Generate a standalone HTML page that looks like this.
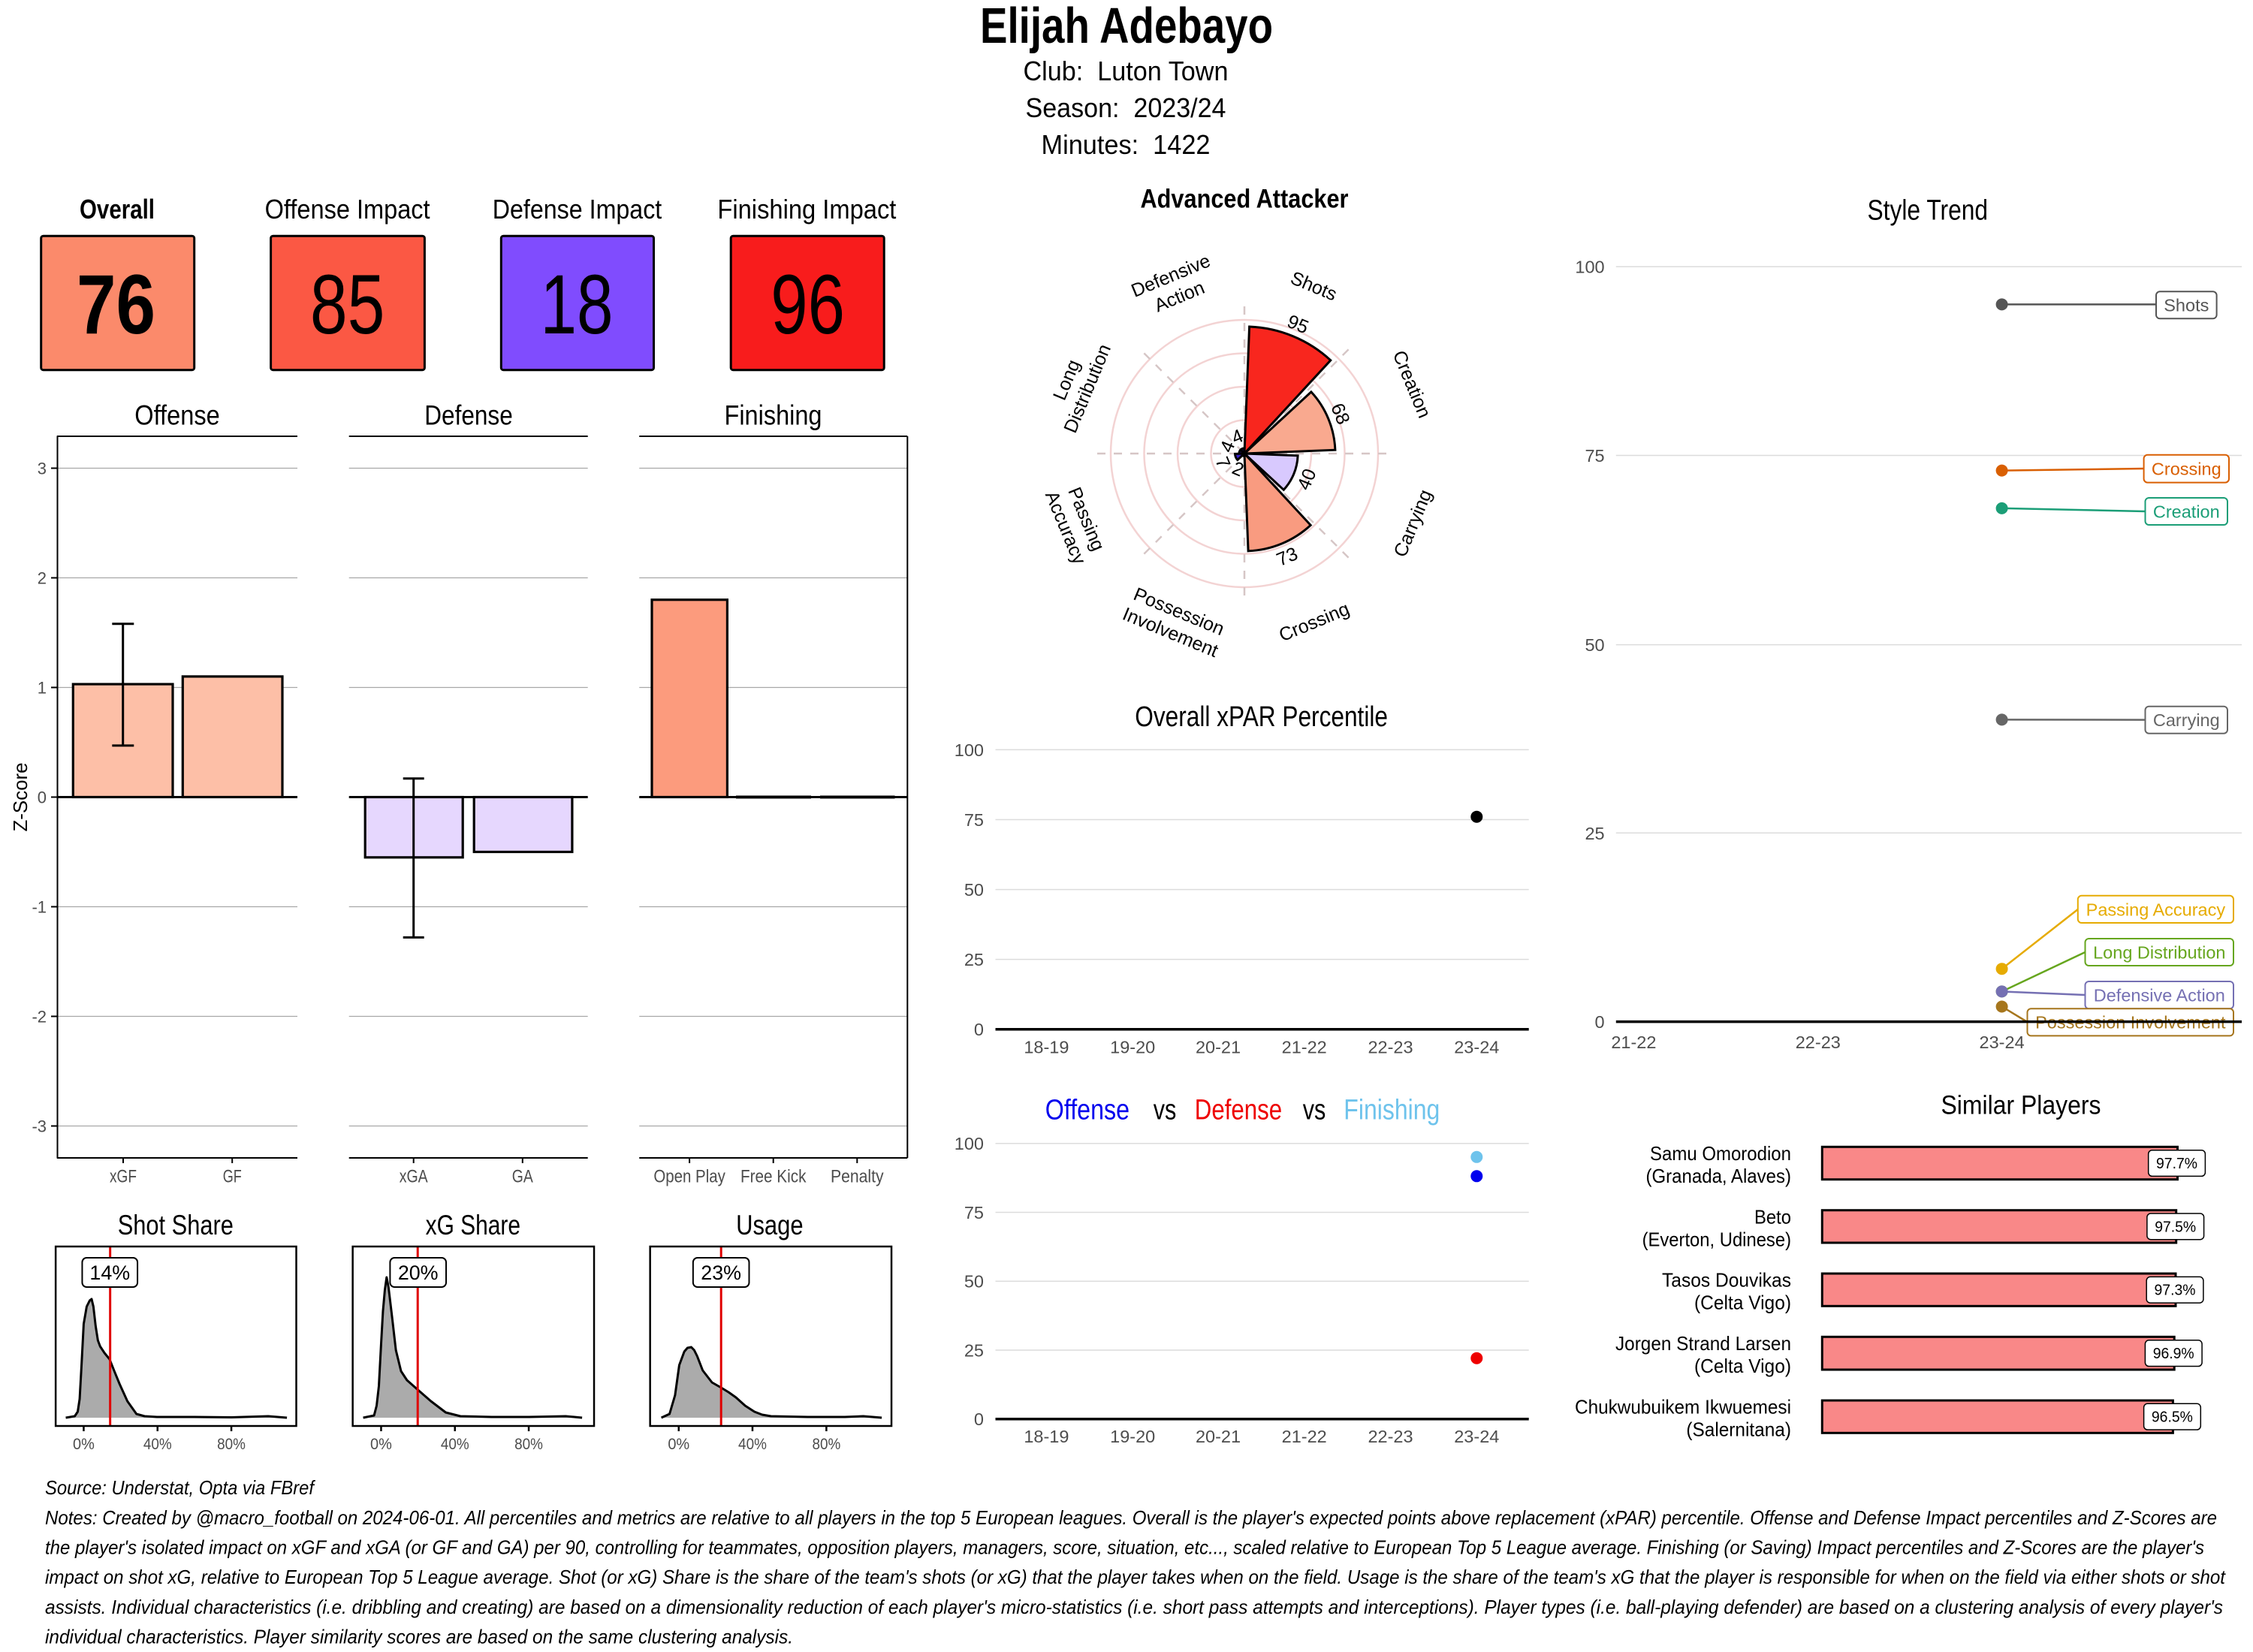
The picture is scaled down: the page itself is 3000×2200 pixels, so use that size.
<!DOCTYPE html>
<html><head><meta charset="utf-8"><style>
html,body{margin:0;padding:0;background:#fff;}
svg{display:block;}
text{font-family:"Liberation Sans",Arial,sans-serif;}
.pre{white-space:pre;}
</style></head><body>
<svg width="3000" height="2200" viewBox="0 0 3000 2200" xmlns="http://www.w3.org/2000/svg">
<rect x="0" y="0" width="3000" height="2200" fill="#fff"/>

<!-- Header -->
<text x="1500" y="57" font-size="67" font-weight="bold" text-anchor="middle" textLength="390" lengthAdjust="spacingAndGlyphs">Elijah Adebayo</text>
<text class="pre" x="1499" y="107" font-size="36" text-anchor="middle" textLength="273" lengthAdjust="spacingAndGlyphs">Club:  Luton Town</text>
<text class="pre" x="1499" y="156" font-size="36" text-anchor="middle" textLength="267" lengthAdjust="spacingAndGlyphs">Season:  2023/24</text>
<text class="pre" x="1499" y="205" font-size="36" text-anchor="middle" textLength="225" lengthAdjust="spacingAndGlyphs">Minutes:  1422</text>

<!-- Top boxes -->
<g font-size="36" text-anchor="middle">
<text x="156" y="291" font-weight="bold" textLength="100" lengthAdjust="spacingAndGlyphs">Overall</text>
<text x="462.6" y="291" textLength="220" lengthAdjust="spacingAndGlyphs">Offense Impact</text>
<text x="768.5" y="291" textLength="225.5" lengthAdjust="spacingAndGlyphs">Defense Impact</text>
<text x="1074.4" y="291" textLength="238" lengthAdjust="spacingAndGlyphs">Finishing Impact</text>
</g>
<g stroke="#000" stroke-width="3">
<rect x="54.7" y="314.2" width="204" height="178.5" rx="3" fill="#FB8A6B"/>
<rect x="360.6" y="314.2" width="204.8" height="178.5" rx="3" fill="#FB5844"/>
<rect x="667.3" y="314.2" width="203.2" height="178.5" rx="3" fill="#804CFE"/>
<rect x="973.2" y="314.2" width="204" height="178.5" rx="3" fill="#F81C1C"/>
</g>
<g font-size="112" text-anchor="middle">
<text x="154.5" y="443.8" font-weight="bold" textLength="105" lengthAdjust="spacingAndGlyphs">76</text>
<text x="462.6" y="443.8" textLength="99.5" lengthAdjust="spacingAndGlyphs">85</text>
<text x="768" y="443.8" textLength="97" lengthAdjust="spacingAndGlyphs">18</text>
<text x="1075.6" y="443.8" textLength="98.7" lengthAdjust="spacingAndGlyphs">96</text>
</g>

<!-- Bar panels titles -->
<g font-size="37" text-anchor="middle">
<text x="236" y="565.6" textLength="113.5" lengthAdjust="spacingAndGlyphs">Offense</text>
<text x="624" y="565.6" textLength="117.5" lengthAdjust="spacingAndGlyphs">Defense</text>
<text x="1029.5" y="565.6" textLength="130" lengthAdjust="spacingAndGlyphs">Finishing</text>
</g>
<!-- gridlines -->
<g stroke="#a8a8a8" stroke-width="1.3">
<line x1="75.7" y1="623.5" x2="396" y2="623.5"/><line x1="75.7" y1="769.5" x2="396" y2="769.5"/><line x1="75.7" y1="915.5" x2="396" y2="915.5"/><line x1="75.7" y1="1207.5" x2="396" y2="1207.5"/><line x1="75.7" y1="1353.5" x2="396" y2="1353.5"/><line x1="75.7" y1="1499.5" x2="396" y2="1499.5"/>
<line x1="464.7" y1="623.5" x2="782.7" y2="623.5"/><line x1="464.7" y1="769.5" x2="782.7" y2="769.5"/><line x1="464.7" y1="915.5" x2="782.7" y2="915.5"/><line x1="464.7" y1="1207.5" x2="782.7" y2="1207.5"/><line x1="464.7" y1="1353.5" x2="782.7" y2="1353.5"/><line x1="464.7" y1="1499.5" x2="782.7" y2="1499.5"/>
<line x1="851.2" y1="623.5" x2="1208.3" y2="623.5"/><line x1="851.2" y1="769.5" x2="1208.3" y2="769.5"/><line x1="851.2" y1="915.5" x2="1208.3" y2="915.5"/><line x1="851.2" y1="1207.5" x2="1208.3" y2="1207.5"/><line x1="851.2" y1="1353.5" x2="1208.3" y2="1353.5"/><line x1="851.2" y1="1499.5" x2="1208.3" y2="1499.5"/>
</g>
<!-- panel lines -->
<g stroke="#000" stroke-width="2" fill="none">
<line x1="75.7" y1="581" x2="396" y2="581"/><line x1="75.7" y1="1542" x2="396" y2="1542"/><line x1="76.5" y1="581" x2="76.5" y2="1542"/>
<line x1="464.7" y1="581" x2="782.7" y2="581"/><line x1="464.7" y1="1542" x2="782.7" y2="1542"/>
<line x1="851.2" y1="581" x2="1208.3" y2="581"/><line x1="851.2" y1="1542" x2="1208.3" y2="1542"/><line x1="1208.3" y1="581" x2="1208.3" y2="1542"/>
<!-- y ticks -->
<line x1="68" y1="623.5" x2="76" y2="623.5"/><line x1="68" y1="769.5" x2="76" y2="769.5"/><line x1="68" y1="915.5" x2="76" y2="915.5"/><line x1="68" y1="1061.5" x2="76" y2="1061.5"/><line x1="68" y1="1207.5" x2="76" y2="1207.5"/><line x1="68" y1="1353.5" x2="76" y2="1353.5"/><line x1="68" y1="1499.5" x2="76" y2="1499.5"/>
<!-- x ticks -->
<line x1="164" y1="1542" x2="164" y2="1549"/><line x1="309.2" y1="1542" x2="309.2" y2="1549"/><line x1="550.7" y1="1542" x2="550.7" y2="1549"/><line x1="695.8" y1="1542" x2="695.8" y2="1549"/><line x1="918.1" y1="1542" x2="918.1" y2="1549"/><line x1="1029.7" y1="1542" x2="1029.7" y2="1549"/><line x1="1141.3" y1="1542" x2="1141.3" y2="1549"/>
</g>
<g font-size="22" fill="#4d4d4d" text-anchor="end">
<text x="62" y="631.5">3</text><text x="62" y="777.5">2</text><text x="62" y="923.5">1</text><text x="62" y="1069.5">0</text><text x="62" y="1215.5">-1</text><text x="62" y="1361.5">-2</text><text x="62" y="1507.5">-3</text>
</g>
<text x="36" y="1061.5" font-size="26" text-anchor="middle" transform="rotate(-90 36 1061.5)" textLength="92" lengthAdjust="spacingAndGlyphs">Z-Score</text>
<g font-size="24" fill="#4d4d4d" text-anchor="middle">
<text x="164" y="1574.5" textLength="36" lengthAdjust="spacingAndGlyphs">xGF</text>
<text x="309.2" y="1574.5" textLength="25" lengthAdjust="spacingAndGlyphs">GF</text>
<text x="550.7" y="1574.5" textLength="38" lengthAdjust="spacingAndGlyphs">xGA</text>
<text x="695.8" y="1574.5" textLength="28" lengthAdjust="spacingAndGlyphs">GA</text>
<text x="918.1" y="1574.5" textLength="95.5" lengthAdjust="spacingAndGlyphs">Open Play</text>
<text x="1029.7" y="1574.5" textLength="87.5" lengthAdjust="spacingAndGlyphs">Free Kick</text>
<text x="1141.3" y="1574.5" textLength="70.7" lengthAdjust="spacingAndGlyphs">Penalty</text>
</g>
<!-- bars -->
<g stroke="#000" stroke-width="3.2">
<rect x="97.3" y="911.1" width="132.7" height="150.4" fill="#FDBFA7"/>
<rect x="243.3" y="900.9" width="132.7" height="160.6" fill="#FDBFA7"/>
<rect x="486.2" y="1061.5" width="130" height="80.3" fill="#E6D7FE"/>
<rect x="631.2" y="1061.5" width="130.7" height="73" fill="#E6D7FE"/>
<rect x="868" y="798.7" width="100.4" height="262.8" fill="#FC9B7D"/>
</g>
<g stroke="#000" stroke-width="3" fill="none">
<line x1="75.7" y1="1061.5" x2="396" y2="1061.5"/>
<line x1="464.7" y1="1061.5" x2="782.7" y2="1061.5"/>
<line x1="851.2" y1="1061.5" x2="1208.3" y2="1061.5"/>
<line x1="980" y1="1061.5" x2="1080" y2="1061.5" stroke-width="4"/>
<line x1="1092" y1="1061.5" x2="1191.5" y2="1061.5" stroke-width="4"/>
<line x1="163.7" y1="830.8" x2="163.7" y2="992.9"/><line x1="149.3" y1="830.8" x2="178.3" y2="830.8"/><line x1="149.3" y1="992.9" x2="178.3" y2="992.9"/>
<line x1="550.7" y1="1036.7" x2="550.7" y2="1248.4"/><line x1="536.7" y1="1036.7" x2="564.7" y2="1036.7"/><line x1="536.7" y1="1248.4" x2="564.7" y2="1248.4"/>
</g>

<!-- Density panels (scaled horizontally) -->
<g transform="scale(0.995 1)">
<g font-size="37" text-anchor="middle">
<text x="235" y="1644" textLength="155" lengthAdjust="spacingAndGlyphs">Shot Share</text>
<text x="633" y="1644" textLength="127" lengthAdjust="spacingAndGlyphs">xG Share</text>
<text x="1030" y="1644" textLength="90" lengthAdjust="spacingAndGlyphs">Usage</text>
</g>
<g stroke="#000" stroke-width="3" fill="#ababab" stroke-linejoin="round">
<path d="M88,1888 L100,1886 L104,1880 L106.6,1863 L109,1820 L112,1763 L116,1740 L120,1732 L122.6,1730 L125,1740 L128,1766 L131,1785 L134,1793 L140,1802 L146.6,1810 L153,1826 L160,1843 L170.5,1866 L182.6,1883 L193.5,1886 L210,1887 L260,1887 L310,1887.5 L359,1886 L384,1888"/>
<path d="M486,1888 L500.6,1885 L504,1872 L507,1846 L510,1790 L512.5,1746 L515,1718 L517.4,1701 L519.9,1714 L524.6,1753 L529.8,1798 L536.7,1826 L544.6,1838 L559.4,1851 L576.7,1866 L596.5,1881 L616.2,1886 L658,1887 L708,1887 L757,1886 L779,1888"/>
<path d="M885,1888 L896,1883 L903.4,1858 L909,1818 L915.7,1800 L920,1795 L925.1,1794 L929,1798 L933,1806 L940.4,1825 L952.8,1841 L965.1,1848 L975,1854 L984.9,1861 L997.2,1872 L1009.6,1880 L1020,1884 L1031.8,1886 L1081,1887 L1130.6,1887 L1155.3,1886 L1180,1888"/>
</g>
<g stroke="#e00000" stroke-width="3">
<line x1="147.4" y1="1660" x2="147.4" y2="1899"/>
<line x1="559" y1="1660" x2="559" y2="1899"/>
<line x1="965" y1="1660" x2="965" y2="1899"/>
</g>
<g stroke="#000" stroke-width="2.5" fill="none">
<rect x="74.5" y="1660" width="322" height="239"/>
<rect x="472" y="1660" width="323" height="239"/>
<rect x="870" y="1660" width="323" height="239"/>
<line x1="112" y1="1899" x2="112" y2="1906"/><line x1="210.8" y1="1899" x2="210.8" y2="1906"/><line x1="309.6" y1="1899" x2="309.6" y2="1906"/>
<line x1="510" y1="1899" x2="510" y2="1906"/><line x1="608.8" y1="1899" x2="608.8" y2="1906"/><line x1="707.6" y1="1899" x2="707.6" y2="1906"/>
<line x1="908.3" y1="1899" x2="908.3" y2="1906"/><line x1="1007" y1="1899" x2="1007" y2="1906"/><line x1="1105.9" y1="1899" x2="1105.9" y2="1906"/>
</g>
<g stroke="#000" stroke-width="2" fill="#fff">
<rect x="110" y="1675" width="74" height="39" rx="6"/>
<rect x="522" y="1675" width="75" height="39" rx="6"/>
<rect x="927.5" y="1675" width="75" height="39" rx="6"/>
</g>
<g font-size="27" text-anchor="middle">
<text x="147" y="1704" textLength="54" lengthAdjust="spacingAndGlyphs">14%</text>
<text x="559.5" y="1704" textLength="54" lengthAdjust="spacingAndGlyphs">20%</text>
<text x="965" y="1704" textLength="54" lengthAdjust="spacingAndGlyphs">23%</text>
</g>
<g font-size="21" fill="#4d4d4d" text-anchor="middle">
<text x="112" y="1930" textLength="29" lengthAdjust="spacingAndGlyphs">0%</text><text x="210.8" y="1930" textLength="38" lengthAdjust="spacingAndGlyphs">40%</text><text x="309.6" y="1930" textLength="38" lengthAdjust="spacingAndGlyphs">80%</text>
<text x="510" y="1930" textLength="29" lengthAdjust="spacingAndGlyphs">0%</text><text x="608.8" y="1930" textLength="38" lengthAdjust="spacingAndGlyphs">40%</text><text x="707.6" y="1930" textLength="38" lengthAdjust="spacingAndGlyphs">80%</text>
<text x="908.3" y="1930" textLength="29" lengthAdjust="spacingAndGlyphs">0%</text><text x="1007" y="1930" textLength="38" lengthAdjust="spacingAndGlyphs">40%</text><text x="1105.9" y="1930" textLength="38" lengthAdjust="spacingAndGlyphs">80%</text>
</g>
</g>

<!-- Polar chart -->
<text x="1657" y="276.5" font-size="35" font-weight="bold" text-anchor="middle" textLength="277" lengthAdjust="spacingAndGlyphs">Advanced Attacker</text>
<g fill="none" stroke="#f3d3d3" stroke-width="2.5">
<circle cx="1657" cy="604" r="44.5"/><circle cx="1657" cy="604" r="89"/><circle cx="1657" cy="604" r="133.5"/><circle cx="1657" cy="604" r="178"/>
</g>
<g stroke="#d6c6c6" stroke-width="2.5" stroke-dasharray="11 11">
<line x1="1657" y1="408" x2="1657" y2="800"/>
<line x1="1461" y1="604" x2="1853" y2="604"/>
<line x1="1795.6" y1="465.4" x2="1518.4" y2="742.6"/>
<line x1="1795.6" y1="742.6" x2="1518.4" y2="465.4"/>
</g>
<g stroke="#000" stroke-width="3" stroke-linejoin="miter">
<path d="M1657,604 L1663.6,435.0 A169.1,169.1 0 0 1 1771.8,479.8 Z" fill="#F8261E"/>
<path d="M1657,604 L1745.9,521.9 A121,121 0 0 1 1777.9,599.2 Z" fill="#F9A98F"/>
<path d="M1657,604 L1728.1,606.8 A71.2,71.2 0 0 1 1709.3,652.3 Z" fill="#D8C9FE"/>
<path d="M1657,604 L1745.2,699.4 A129.9,129.9 0 0 1 1662.1,733.8 Z" fill="#F99B80"/>
<path d="M1657,604 L1656.9,607.6 A3.56,3.56 0 0 1 1654.6,606.6 Z" fill="#3a1fc8"/>
<path d="M1657,604 L1647.8,612.5 A12.5,12.5 0 0 1 1644.5,604.5 Z" fill="#3a1fc8"/>
<path d="M1657,604 L1649.9,603.7 A7.1,7.1 0 0 1 1651.8,599.2 Z" fill="#3a1fc8"/>
<path d="M1657,604 L1652.2,598.8 A7.1,7.1 0 0 1 1656.7,596.9 Z" fill="#3a1fc8"/>
</g>
<g font-size="25" text-anchor="middle">
<text transform="translate(1728.6,431.2) rotate(22.5)" y="9">95</text>
<text transform="translate(1785.4,550.8) rotate(67.5)" y="9">68</text>
<text transform="translate(1739.4,638.1) rotate(-67.5)" y="9">40</text>
<text transform="translate(1713.6,740.7) rotate(-22.5)" y="9">73</text>
<text transform="translate(1648.7,624) rotate(22.5)" y="9">2</text>
<text transform="translate(1628.8,615.7) rotate(67.5)" y="9">7</text>
<text transform="translate(1633.9,594.4) rotate(-67.5)" y="9">4</text>
<text transform="translate(1647.4,580.9) rotate(-22.5)" y="9">4</text>
</g>
<g font-size="25" text-anchor="middle">
<text transform="translate(1749.6,380.4) rotate(22.5)" y="9">Shots</text>
<text transform="translate(1880.6,511.4) rotate(67.5)" y="9">Creation</text>
<text transform="translate(1880.6,696.6) rotate(-67.5)" y="9">Carrying</text>
<text transform="translate(1749.6,827.6) rotate(-22.5)" y="9">Crossing</text>
<g transform="translate(1564.4,827.6) rotate(22.5)"><text y="-6">Possession</text><text y="24">Involvement</text></g>
<g transform="translate(1433.4,696.6) rotate(67.5)"><text y="-6">Passing</text><text y="24">Accuracy</text></g>
<g transform="translate(1433.4,511.4) rotate(-67.5)"><text y="-6">Long</text><text y="24">Distribution</text></g>
<g transform="translate(1564.4,380.4) rotate(-22.5)"><text y="-6">Defensive</text><text y="24">Action</text></g>
</g>

<!-- Overall xPAR -->
<text x="1679.6" y="967" font-size="38" text-anchor="middle" textLength="336.7" lengthAdjust="spacingAndGlyphs">Overall xPAR Percentile</text>
<g stroke="#dcdcdc" stroke-width="1.5">
<line x1="1325.5" y1="998.4" x2="2035.7" y2="998.4"/><line x1="1325.5" y1="1091.5" x2="2035.7" y2="1091.5"/><line x1="1325.5" y1="1184.6" x2="2035.7" y2="1184.6"/><line x1="1325.5" y1="1277.6" x2="2035.7" y2="1277.6"/>
<line x1="1325.5" y1="1522.7" x2="2035.7" y2="1522.7"/><line x1="1325.5" y1="1614.5" x2="2035.7" y2="1614.5"/><line x1="1325.5" y1="1706.2" x2="2035.7" y2="1706.2"/><line x1="1325.5" y1="1798" x2="2035.7" y2="1798"/>
</g>
<g stroke="#000" stroke-width="3.5">
<line x1="1325.5" y1="1370.7" x2="2035.7" y2="1370.7"/>
<line x1="1325.5" y1="1889.7" x2="2035.7" y2="1889.7"/>
</g>
<g font-size="23.5" fill="#4d4d4d" text-anchor="end">
<text x="1310" y="1006.9">100</text><text x="1310" y="1100">75</text><text x="1310" y="1193.1">50</text><text x="1310" y="1286.1">25</text><text x="1310" y="1379.2">0</text>
<text x="1310" y="1531.2">100</text><text x="1310" y="1623">75</text><text x="1310" y="1714.7">50</text><text x="1310" y="1806.5">25</text><text x="1310" y="1898.2">0</text>
</g>
<g font-size="23.5" fill="#4d4d4d" text-anchor="middle">
<text x="1393.4" y="1402.5">18-19</text><text x="1508.2" y="1402.5">19-20</text><text x="1622" y="1402.5">20-21</text><text x="1736.7" y="1402.5">21-22</text><text x="1851.5" y="1402.5">22-23</text><text x="1966.3" y="1402.5">23-24</text>
<text x="1393.4" y="1921">18-19</text><text x="1508.2" y="1921">19-20</text><text x="1622" y="1921">20-21</text><text x="1736.7" y="1921">21-22</text><text x="1851.5" y="1921">22-23</text><text x="1966.3" y="1921">23-24</text>
</g>
<circle cx="1966.3" cy="1087.7" r="8" fill="#000"/>
<g font-size="38">
<text x="1391.8" y="1490.6" fill="#0000EE" textLength="112.2" lengthAdjust="spacingAndGlyphs">Offense</text>
<text x="1535.7" y="1490.6" fill="#000" textLength="30.6" lengthAdjust="spacingAndGlyphs">vs</text>
<text x="1590.8" y="1490.6" fill="#EE0000" textLength="116.3" lengthAdjust="spacingAndGlyphs">Defense</text>
<text x="1734.7" y="1490.6" fill="#000" textLength="30.6" lengthAdjust="spacingAndGlyphs">vs</text>
<text x="1789.3" y="1490.6" fill="#6EC3EC" textLength="128" lengthAdjust="spacingAndGlyphs">Finishing</text>
</g>
<circle cx="1966.3" cy="1540.8" r="8" fill="#6EC3EC"/>
<circle cx="1966.3" cy="1566.3" r="8" fill="#0000EE"/>
<circle cx="1966.3" cy="1808.7" r="8" fill="#EE0000"/>

<!-- Style Trend -->
<text x="2566.8" y="292.7" font-size="38" text-anchor="middle" textLength="160.6" lengthAdjust="spacingAndGlyphs">Style Trend</text>
<g stroke="#dcdcdc" stroke-width="1.5">
<line x1="2151.8" y1="355.1" x2="2985" y2="355.1"/><line x1="2151.8" y1="606.5" x2="2985" y2="606.5"/><line x1="2151.8" y1="858.6" x2="2985" y2="858.6"/><line x1="2151.8" y1="1109.3" x2="2985" y2="1109.3"/>
</g>
<g font-size="23.5" fill="#4d4d4d" text-anchor="end">
<text x="2136.6" y="363.6">100</text><text x="2136.6" y="615">75</text><text x="2136.6" y="867.1">50</text><text x="2136.6" y="1117.8">25</text><text x="2136.6" y="1369.1">0</text>
</g>
<g font-size="23.5" fill="#4d4d4d" text-anchor="middle">
<text x="2175.4" y="1396">21-22</text><text x="2420.8" y="1396">22-23</text><text x="2665.6" y="1396">23-24</text>
</g>
<g stroke-width="2.5" fill="none">
<line x1="2665.6" y1="405.4" x2="2871" y2="405.4" stroke="#555555"/>
<line x1="2665.6" y1="626.6" x2="2854.6" y2="624" stroke="#D95F02"/>
<line x1="2665.6" y1="676.9" x2="2856.5" y2="681" stroke="#1B9E77"/>
<line x1="2665.6" y1="958.4" x2="2856.5" y2="958.6" stroke="#666666"/>
<line x1="2665.6" y1="1290.2" x2="2766.8" y2="1211" stroke="#E6AB02"/>
<line x1="2665.6" y1="1320.4" x2="2776.5" y2="1268" stroke="#66A61E"/>
<line x1="2665.6" y1="1320.4" x2="2776.5" y2="1325" stroke="#7570B3"/>
<line x1="2665.6" y1="1340.5" x2="2699.5" y2="1361" stroke="#A6761D"/>
</g>
<g fill="#fff" stroke-width="2">
<rect x="2871" y="388.3" width="80.6" height="36" rx="5" stroke="#555555"/>
<rect x="2854.6" y="605.8" width="113.4" height="36.8" rx="5" stroke="#D95F02"/>
<rect x="2856.5" y="663" width="109.5" height="36" rx="5" stroke="#1B9E77"/>
<rect x="2856.5" y="940.7" width="109.5" height="36" rx="5" stroke="#666666"/>
<rect x="2766.8" y="1192.8" width="207.2" height="36.2" rx="5" stroke="#E6AB02"/>
<rect x="2776.5" y="1250" width="197.5" height="36" rx="5" stroke="#66A61E"/>
<rect x="2776.5" y="1307" width="197.5" height="36.3" rx="5" stroke="#7570B3"/>
<rect x="2699.5" y="1343.3" width="274.5" height="36.1" rx="5" stroke="#A6761D"/>
</g>
<g font-size="23.5" text-anchor="middle">
<text x="2911.3" y="414.7" fill="#555555">Shots</text>
<text x="2911.3" y="632.6" fill="#D95F02">Crossing</text>
<text x="2911.3" y="689.4" fill="#1B9E77">Creation</text>
<text x="2911.3" y="967.1" fill="#666666">Carrying</text>
<text x="2870.4" y="1219.3" fill="#E6AB02">Passing Accuracy</text>
<text x="2875.3" y="1276.4" fill="#66A61E">Long Distribution</text>
<text x="2875.3" y="1333.5" fill="#7570B3">Defensive Action</text>
<text x="2836.8" y="1369.7" fill="#A6761D">Possession Involvement</text>
</g>
<line x1="2151.8" y1="1360.6" x2="2985" y2="1360.6" stroke="#000" stroke-width="3.5"/>
<circle cx="2665.6" cy="405.4" r="8" fill="#555555"/>
<circle cx="2665.6" cy="626.6" r="8" fill="#D95F02"/>
<circle cx="2665.6" cy="676.9" r="8" fill="#1B9E77"/>
<circle cx="2665.6" cy="958.4" r="8" fill="#666666"/>
<circle cx="2665.6" cy="1290.2" r="8" fill="#E6AB02"/>
<circle cx="2665.6" cy="1320.4" r="8" fill="#66A61E"/>
<circle cx="2665.6" cy="1320.4" r="8" fill="#7570B3"/>
<circle cx="2665.6" cy="1340.5" r="8" fill="#A6761D"/>

<!-- Similar Players -->
<text x="2691" y="1483.3" font-size="35" text-anchor="middle" textLength="213" lengthAdjust="spacingAndGlyphs">Similar Players</text>
<g fill="#F98888" stroke="#000" stroke-width="3">
<rect x="2426.3" y="1527.3" width="473.2" height="43.4"/>
<rect x="2426.3" y="1611.7" width="471.4" height="43.3"/>
<rect x="2426.3" y="1696" width="470.7" height="43.3"/>
<rect x="2426.3" y="1780.3" width="468.9" height="43.7"/>
<rect x="2426.3" y="1865" width="467.1" height="43.3"/>
</g>
<g fill="#fff" stroke="#000" stroke-width="1.5">
<rect x="2860.7" y="1531.7" width="75.7" height="34.7" rx="5"/>
<rect x="2858.9" y="1616" width="75.7" height="34.7" rx="5"/>
<rect x="2858.2" y="1700.4" width="75.7" height="34.7" rx="5"/>
<rect x="2856.4" y="1784.8" width="75.7" height="34.7" rx="5"/>
<rect x="2854.6" y="1869.3" width="75.7" height="34.7" rx="5"/>
</g>
<g font-size="20" text-anchor="middle">
<text x="2898.5" y="1556" textLength="55" lengthAdjust="spacingAndGlyphs">97.7%</text>
<text x="2896.7" y="1640.3" textLength="55" lengthAdjust="spacingAndGlyphs">97.5%</text>
<text x="2896" y="1724.7" textLength="55" lengthAdjust="spacingAndGlyphs">97.3%</text>
<text x="2894.2" y="1809.2" textLength="55" lengthAdjust="spacingAndGlyphs">96.9%</text>
<text x="2892.4" y="1893.7" textLength="55" lengthAdjust="spacingAndGlyphs">96.5%</text>
</g>
<g font-size="26" text-anchor="end">
<text x="2385" y="1545" textLength="188" lengthAdjust="spacingAndGlyphs">Samu Omorodion</text>
<text x="2385" y="1575" textLength="193.5" lengthAdjust="spacingAndGlyphs">(Granada, Alaves)</text>
<text x="2385" y="1629.3" textLength="49" lengthAdjust="spacingAndGlyphs">Beto</text>
<text x="2385" y="1659.3" textLength="198.4" lengthAdjust="spacingAndGlyphs">(Everton, Udinese)</text>
<text x="2385" y="1713.7" textLength="172" lengthAdjust="spacingAndGlyphs">Tasos Douvikas</text>
<text x="2385" y="1743.7" textLength="129" lengthAdjust="spacingAndGlyphs">(Celta Vigo)</text>
<text x="2385" y="1798.2" textLength="234" lengthAdjust="spacingAndGlyphs">Jorgen Strand Larsen</text>
<text x="2385" y="1828.2" textLength="129" lengthAdjust="spacingAndGlyphs">(Celta Vigo)</text>
<text x="2385" y="1882.7" textLength="288" lengthAdjust="spacingAndGlyphs">Chukwubuikem Ikwuemesi</text>
<text x="2385" y="1912.7" textLength="139.6" lengthAdjust="spacingAndGlyphs">(Salernitana)</text>
</g>

<!-- Notes -->
<g font-size="26" font-style="italic">
<text x="60" y="1990" textLength="358" lengthAdjust="spacingAndGlyphs">Source: Understat, Opta via FBref</text>
<text x="60" y="2030" textLength="2892" lengthAdjust="spacingAndGlyphs">Notes: Created by @macro_football on 2024-06-01. All percentiles and metrics are relative to all players in the top 5 European leagues. Overall is the player's expected points above replacement (xPAR) percentile. Offense and Defense Impact percentiles and Z-Scores are</text>
<text x="60" y="2069.5" textLength="2875" lengthAdjust="spacingAndGlyphs">the player's isolated impact on xGF and xGA (or GF and GA) per 90, controlling for teammates, opposition players, managers, score, situation, etc..., scaled relative to European Top 5 League average. Finishing (or Saving) Impact percentiles and Z-Scores are the player's</text>
<text x="60" y="2109" textLength="2903" lengthAdjust="spacingAndGlyphs">impact on shot xG, relative to European Top 5 League average. Shot (or xG) Share is the share of the team's shots (or xG) that the player takes when on the field. Usage is the share of the team's xG that the player is responsible for when on the field via either shots or shot</text>
<text x="60" y="2149" textLength="2900" lengthAdjust="spacingAndGlyphs">assists. Individual characteristics (i.e. dribbling and creating) are based on a dimensionality reduction of each player's micro-statistics (i.e. short pass attempts and interceptions). Player types (i.e. ball-playing defender) are based on a clustering analysis of every player's</text>
<text x="60" y="2188.5" textLength="996" lengthAdjust="spacingAndGlyphs">individual characteristics. Player similarity scores are based on the same clustering analysis.</text>
</g>
</svg>
</body></html>
